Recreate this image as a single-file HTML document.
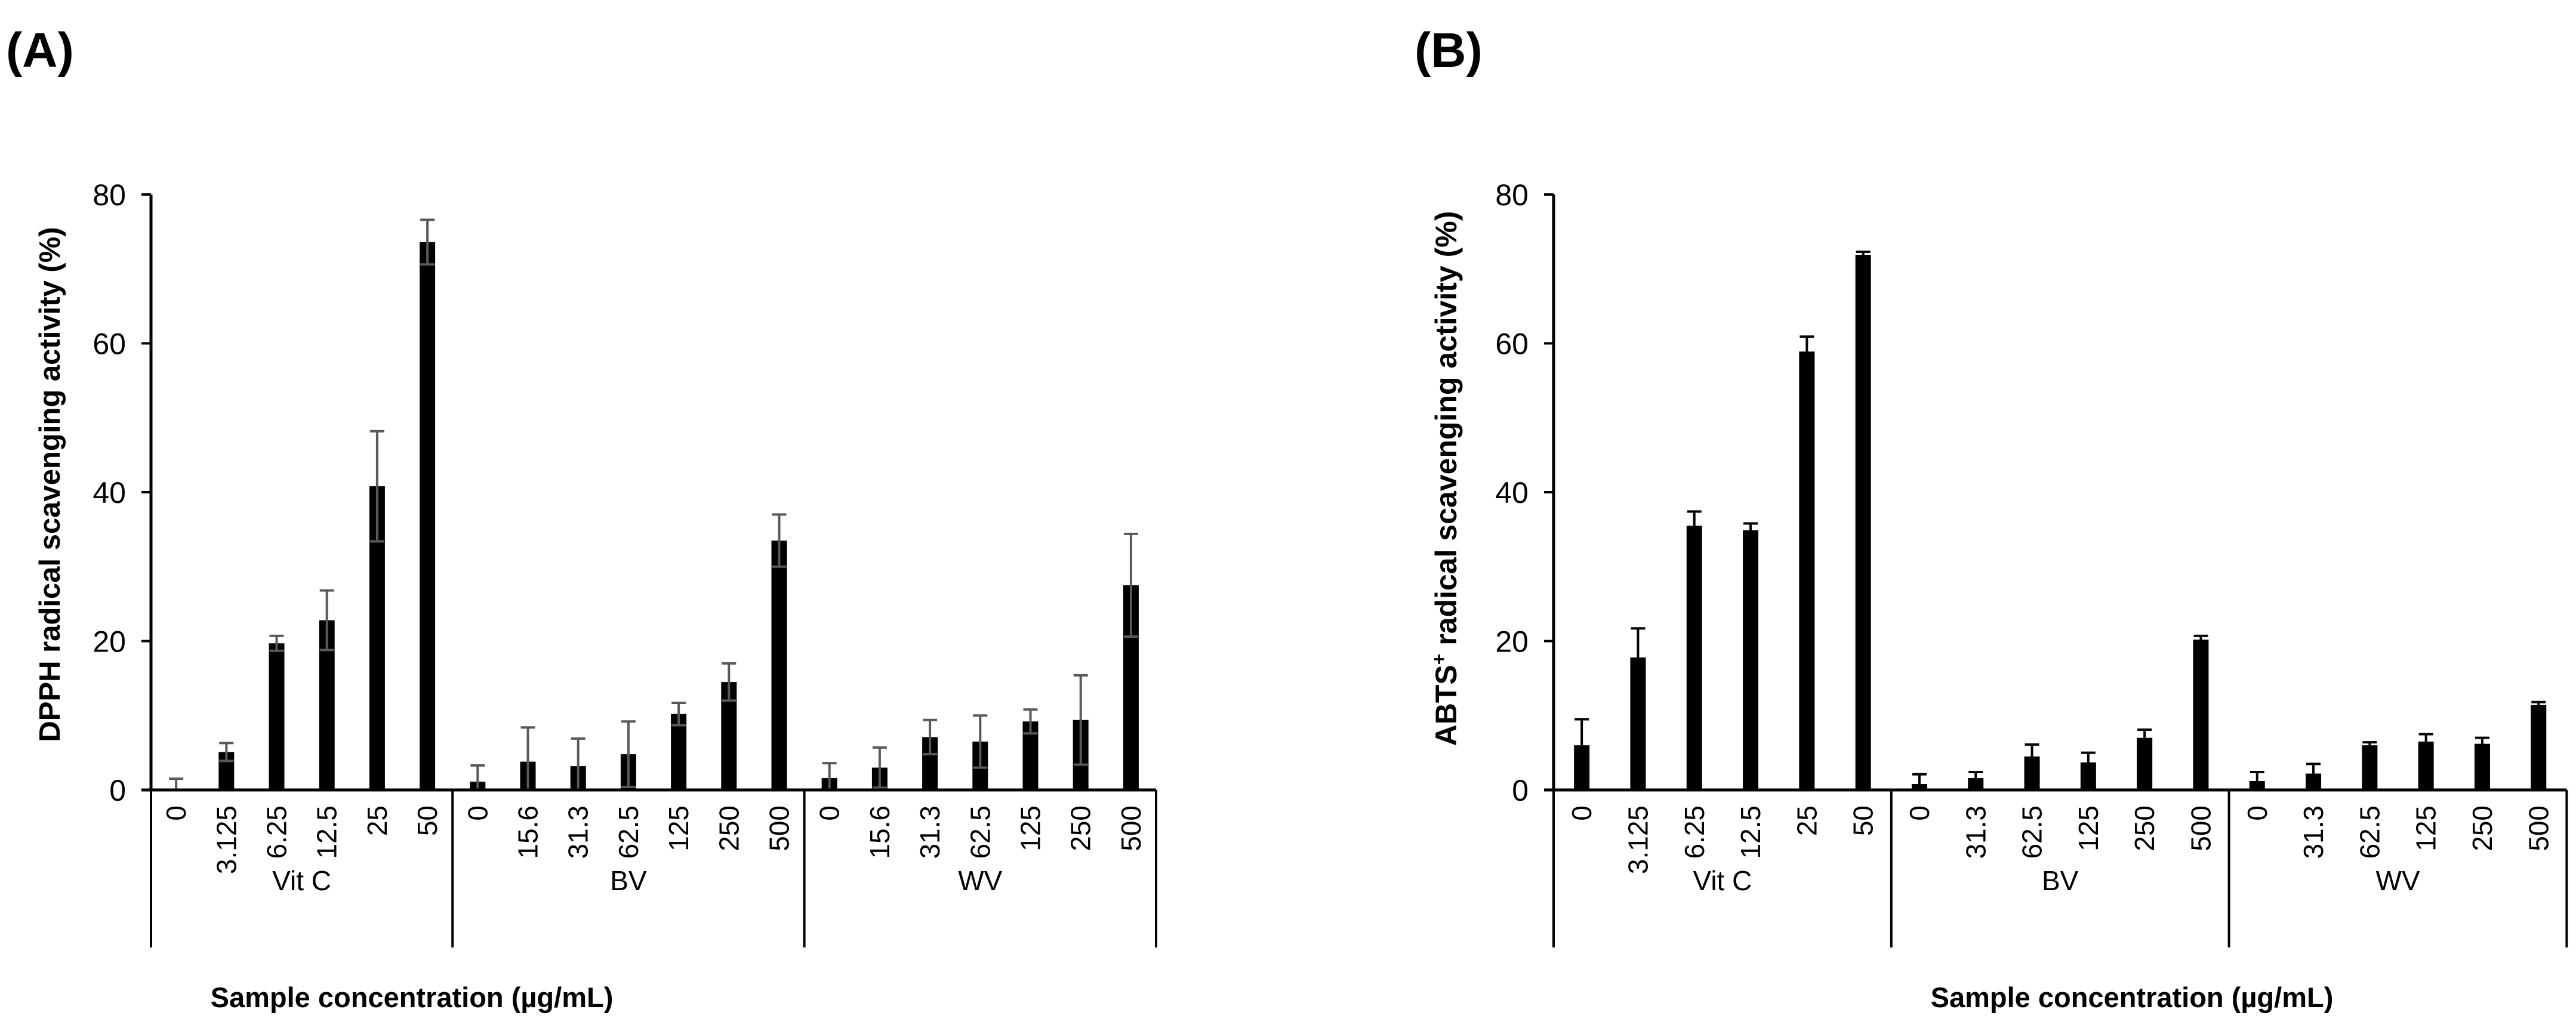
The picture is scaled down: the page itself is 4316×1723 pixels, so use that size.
<!DOCTYPE html>
<html><head><meta charset="utf-8"><style>
html,body{margin:0;padding:0;background:#fff}
svg{display:block}
text{font-family:"Liberation Sans",Arial,sans-serif}
</style></head><body>
<svg id="fig" width="4316" height="1723" viewBox="0 0 4316 1723" xmlns="http://www.w3.org/2000/svg">
<text x="10" y="112" font-size="82" font-weight="bold">(A)</text>
<text x="2370" y="112" font-size="82" font-weight="bold">(B)</text>
<text transform="translate(100,812) rotate(-90)" text-anchor="middle" font-size="49" font-weight="bold">DPPH radical scavenging activity (%)</text>
<text transform="translate(2440,802) rotate(-90)" text-anchor="middle" font-size="50" font-weight="bold">ABTS<tspan dy="-18" font-size="32">+</tspan><tspan dy="18"> radical scavenging activity (%)</tspan></text>
<text x="690" y="1688" text-anchor="middle" font-size="47" font-weight="bold">Sample concentration (µg/mL)</text>
<text x="3572" y="1688" text-anchor="middle" font-size="47" font-weight="bold">Sample concentration (µg/mL)</text>
<g id="chartA"></g>
<g id="chartB"></g>
</svg>
<script>
const yTicks = [0, 20, 40, 60, 80];
const groupsA = ["Vit C", "BV", "WV"];
const catsA = [["0","3.125","6.25","12.5","25","50"],["0","15.6","31.3","62.5","125","250","500"],["0","15.6","31.3","62.5","125","250","500"]];
const valsA = [0, 5.1, 19.7, 22.8, 40.8, 73.6, 1.1, 3.8, 3.2, 4.8, 10.2, 14.5, 33.5, 1.6, 3.0, 7.1, 6.5, 9.2, 9.4, 27.5];
const errA = [1.5, 1.2, 1.0, 4.0, 7.4, 3.0, 2.2, 4.6, 3.7, 4.4, 1.5, 2.5, 3.5, 2.0, 2.7, 2.3, 3.5, 1.6, 6.0, 6.9];
const groupsB = ["Vit C", "BV", "WV"];
const catsB = [["0","3.125","6.25","12.5","25","50"],["0","31.3","62.5","125","250","500"],["0","31.3","62.5","125","250","500"]];
const valsB = [6.0, 17.8, 35.5, 34.9, 58.9, 71.9, 0.8, 1.6, 4.5, 3.7, 7.0, 20.2, 1.2, 2.2, 6.0, 6.5, 6.2, 11.4];
const errB = [3.5, 3.9, 1.9, 0.9, 2.0, 0.4, 1.3, 0.8, 1.6, 1.3, 1.1, 0.5, 1.2, 1.3, 0.4, 1.0, 0.8, 0.4];

const NS = "http://www.w3.org/2000/svg";
function mk(parent, tag, attrs) {
  const e = document.createElementNS(NS, tag);
  for (const k in attrs) e.setAttribute(k, attrs[k]);
  parent.appendChild(e);
  return e;
}
function draw(gid, groups, cats, vals, errs, x0, step, errColor, twoSided, labelPrefix) {
  const g = document.getElementById(gid);
  const y0 = 1324, yTop = 326, yMax = 80;
  const ys = v => y0 - (v / yMax) * (y0 - yTop);
  const n = vals.length;
  const xEnd = x0 + n * step;
  const xc = i => x0 + (i + 0.5) * step;
  // y axis
  const ya = mk(g, "line", {x1: x0, y1: yTop, x2: x0, y2: y0, stroke: "#000", "stroke-width": 5});
  
  
  yTicks.forEach(t => {
    const tk = mk(g, "line", {x1: x0 - 16, y1: ys(t), x2: x0, y2: ys(t), stroke: "#000", "stroke-width": 4});
    
    
    const tl = mk(g, "text", {x: x0 - 42, y: ys(t) + 18, "text-anchor": "end", "font-size": 50});
    tl.textContent = t;
    
    
  });
  // bars
  for (let i = 0; i < n; i++) {
    const bw = 26;
    const b = mk(g, "rect", {x: xc(i) - bw / 2, y: ys(vals[i]), width: bw, height: y0 - ys(vals[i]), fill: "#000"});
    
    
    const top = ys(vals[i] + errs[i]);
    const bot = twoSided ? ys(Math.max(0, vals[i] - errs[i])) : ys(vals[i]);
    const eb = mk(g, "path", {d: `M${xc(i)},${bot}V${top}M${xc(i)-12},${top}H${xc(i)+12}` + (twoSided ? `M${xc(i)-12},${bot}H${xc(i)+12}` : ""), stroke: errColor, "stroke-width": 4, fill: "none"});
    
    
  }
  // x axis
  const xa = mk(g, "line", {x1: x0 - 16, y1: y0, x2: xEnd, y2: y0, stroke: "#000", "stroke-width": 5});
  
  
  let idx = 0;
  const seps = [0];
  groups.forEach((gr, gi) => {
    const start = idx;
    cats[gi].forEach(c => {
      const t = mk(g, "text", {transform: `translate(${xc(idx) + 16},1350) rotate(-90)`, "text-anchor": "end", "font-size": 46});
      t.textContent = c;
      
      
      idx++;
    });
    seps.push(idx);
    const gl = mk(g, "text", {x: x0 + ((start + idx) / 2) * step, y: 1492, "text-anchor": "middle", "font-size": 46});
    gl.textContent = gr;
    
    
  });
  seps.forEach(s => {
    const l = mk(g, "line", {x1: x0 + s * step, y1: y0, x2: x0 + s * step, y2: 1588, stroke: "#000", "stroke-width": 4});
    
    
  });
}
draw("chartA", groupsA, catsA, valsA, errA, 253, 84.2, "#595959", true, "a");
draw("chartB", groupsB, catsB, valsB, errB, 2603, 94.3, "#000", false, "b");
</script>
</body></html>
